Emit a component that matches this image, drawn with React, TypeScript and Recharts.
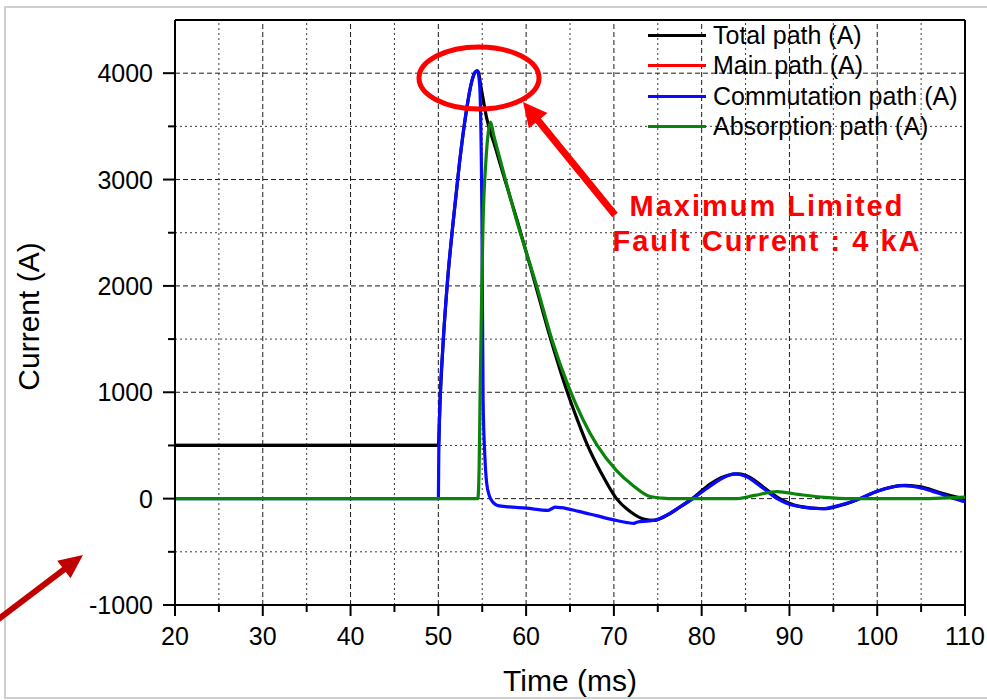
import { Label, Line, LineChart, ReferenceLine, XAxis, YAxis } from "recharts";

const FONT = '"Liberation Sans", Arial, sans-serif';

const xTicks = [20, 25, 30, 35, 40, 45, 50, 55, 60, 65, 70, 75, 80, 85, 90, 95, 100, 105, 110];
const yTicks = [-1000, -500, 0, 500, 1000, 1500, 2000, 2500, 3000, 3500, 4000];
const xGridMajor = [30, 40, 50, 60, 70, 80, 90, 100];
const xGridMinor = [25, 35, 45, 55, 65, 75, 85, 95, 105];
const yGridMajor = [0, 1000, 2000, 3000, 4000];
const yGridMinor = [-500, 500, 1500, 2500, 3500];

// main path (A)
const mainT = [20, 50];
const mainI = [500, 500];

// total path (A)
const totalT = [20, 50, 50.2, 50.5, 51, 51.7, 52.4, 53.2, 53.8, 54.2, 54.5, 54.9, 55.5, 56.5, 57.5, 59, 61, 62.8, 64.7, 65.8, 66.9, 68.5, 70.3, 72, 73.5, 74.5, 76, 77.5, 79, 81, 83, 84.2, 85.5, 87, 89, 91, 94, 96, 98, 100, 103.2, 105, 107, 109.5, 110];
const totalI = [500, 500, 920, 1400, 2000, 2610, 3150, 3650, 3920, 4010, 4020, 3850, 3580, 3300, 3020, 2610, 2030, 1500, 1000, 750, 520, 250, 0, -130, -195, -205, -160, -80, 5, 140, 220, 232, 200, 110, -5, -70, -95, -60, 0, 70, 125, 110, 60, 5, -5];

// commutation path (A)
const commT = [20, 50, 50.05, 50.2, 50.5, 51, 51.7, 52.4, 53.2, 53.8, 54.2, 54.45, 54.7, 54.97, 55.1, 55.3, 55.5, 55.8, 56.3, 56.8, 58, 60, 62.5, 62.9, 63.3, 64, 66, 68, 70, 71.5, 72.3, 72.6, 74, 75, 76, 77.5, 79, 80.5, 82, 83.8, 85, 86.5, 88.6, 90.5, 93.7, 96, 98, 100, 102.9, 105, 107, 108.8, 110];
const commI = [0, 0, 400, 920, 1400, 2000, 2610, 3150, 3650, 3920, 4010, 4025, 3900, 2610, 920, 400, 150, 30, -40, -66, -78, -90, -110, -95, -80, -85, -120, -160, -200, -225, -232, -222, -210, -195, -155, -80, 0, 90, 175, 233, 210, 130, 0, -65, -95, -55, 0, 70, 122, 100, 50, 0, -30];

// absorption path (A)
const absT = [20, 54.5, 54.65, 54.75, 54.95, 55.1, 55.4, 55.7, 55.95, 56.3, 57, 58.8, 61.2, 63, 64.8, 66.5, 68.1, 70.3, 72.2, 74.1, 75.5, 77, 84, 86, 88.6, 91, 94, 97, 105, 108, 110];
const absI = [0, 0, 300, 920, 2000, 2610, 3150, 3450, 3540, 3420, 3200, 2650, 2000, 1480, 1060, 740, 500, 263, 122, 20, 5, 0, 0, 30, 66, 40, 12, 0, 0, 8, 15];

const zip = (t: number[], v: number[]) => t.map((x, i) => ({ t: x, v: v[i] }));

const total = { name: "Total path (A)", color: "#000000", data: zip(totalT, totalI) };
const main = { name: "Main path (A)", color: "#ff0000", data: zip(mainT, mainI) };
const comm = { name: "Commutation path (A)", color: "#0a0aff", data: zip(commT, commI) };
const absorb = { name: "Absorption path (A)", color: "#0b840b", data: zip(absT, absI) };

const legendOrder = [total, main, comm, absorb];
const drawOrder = [main, total, comm, absorb];

function XTick({ x, y, payload }: any) {
  const v = payload.value;
  const major = v % 10 === 0;
  return (
    <g>
      <line x1={x} x2={x} y1={y} y2={y + (major ? 11 : 7)} stroke="#000" strokeWidth={2} />
      {major && (
        <text x={x} y={y + 40} textAnchor="middle" fontSize={25} fontFamily={FONT} fill="#000">
          {v}
        </text>
      )}
    </g>
  );
}

function YTick({ x, y, payload }: any) {
  const v = payload.value;
  const major = v % 1000 === 0;
  return (
    <g>
      <line x1={x - (major ? 12 : 7)} x2={x} y1={y} y2={y} stroke="#000" strokeWidth={2} />
      {major && (
        <text x={x - 22} y={y + 9} textAnchor="end" fontSize={25} fontFamily={FONT} fill="#000">
          {v}
        </text>
      )}
    </g>
  );
}

function LegendBox() {
  return (
    <div style={{ position: "absolute", left: 648, top: 20, fontFamily: FONT, fontSize: 25, color: "#000" }}>
      {legendOrder.map((s) => (
        <div key={s.name} style={{ display: "flex", alignItems: "center", height: 30.5, whiteSpace: "nowrap" }}>
          <span style={{ display: "inline-block", width: 58, height: 3, background: s.color, marginRight: 7 }} />
          <span>{s.name}</span>
        </div>
      ))}
    </div>
  );
}

function arrow(x1: number, y1: number, x2: number, y2: number, w: number, len: number, half: number, color: string) {
  const d = Math.hypot(x2 - x1, y2 - y1);
  const ux = (x2 - x1) / d;
  const uy = (y2 - y1) / d;
  const bx = x2 - ux * len;
  const by = y2 - uy * len;
  const pts = `${x2},${y2} ${bx - uy * half},${by + ux * half} ${bx + uy * half},${by - ux * half}`;
  return (
    <g>
      <line x1={x1} y1={y1} x2={bx + ux * 2} y2={by + uy * 2} stroke={color} strokeWidth={w} />
      <polygon points={pts} fill={color} />
    </g>
  );
}

export default function App() {
  return (
    <div style={{ position: "absolute", left: 0, top: 0, width: 987, height: 700, background: "#fff", overflow: "hidden" }}>
      <LineChart width={987} height={700} margin={{ top: 20, right: 22, bottom: 0, left: 0 }}>
        <XAxis
          type="number"
          dataKey="t"
          domain={[20, 110]}
          ticks={xTicks}
          interval={0}
          allowDataOverflow
          height={95}
          tickSize={0}
          tickMargin={0}
          tickLine={false}
          axisLine={{ stroke: "#000", strokeWidth: 2 }}
          tick={(p: any) => <XTick {...p} />}
        >
          <Label
            content={({ viewBox }: any) => (
              <text x={viewBox.x + viewBox.width / 2} y={viewBox.y + 86} textAnchor="middle" fontSize={30} fontFamily={FONT} fill="#000">
                Time (ms)
              </text>
            )}
          />
        </XAxis>
        <YAxis
          type="number"
          domain={[-1000, 4500]}
          ticks={yTicks}
          interval={0}
          allowDataOverflow
          width={175}
          tickSize={0}
          tickMargin={0}
          tickLine={false}
          axisLine={{ stroke: "#000", strokeWidth: 2 }}
          tick={(p: any) => <YTick {...p} />}
        >
          <Label
            content={({ viewBox }: any) => {
              const cx = viewBox.x + 39;
              const cy = viewBox.y + viewBox.height / 2 + 4;
              return (
                <text x={cx} y={cy} transform={`rotate(-90 ${cx} ${cy})`} textAnchor="middle" fontSize={30} fontFamily={FONT} fill="#000">
                  Current (A)
                </text>
              );
            }}
          />
        </YAxis>

        {xGridMinor.map((v) => (
          <ReferenceLine key={`xm${v}`} x={v} stroke="#3a3a3a" strokeDasharray="2 3" />
        ))}
        {yGridMinor.map((v) => (
          <ReferenceLine key={`ym${v}`} y={v} stroke="#3a3a3a" strokeDasharray="2 3" />
        ))}
        {xGridMajor.map((v) => (
          <ReferenceLine key={`xM${v}`} x={v} stroke="#1a1a1a" strokeDasharray="5 3" />
        ))}
        {yGridMajor.map((v) => (
          <ReferenceLine key={`yM${v}`} y={v} stroke="#1a1a1a" strokeDasharray="5 3" />
        ))}
        <ReferenceLine x={110} stroke="#000" strokeWidth={2} />
        <ReferenceLine y={4500} stroke="#000" strokeWidth={2} />

        {drawOrder.map((s) => (
          <Line
            key={s.name}
            data={s.data}
            dataKey="v"
            name={s.name}
            type="monotone"
            stroke={s.color}
            strokeWidth={3.2}
            dot={false}
            activeDot={false}
            isAnimationActive={false}
          />
        ))}
      </LineChart>

      <LegendBox />

      <svg width={987} height={700} style={{ position: "absolute", left: 0, top: 0, pointerEvents: "none" }}>
        <rect x={5} y={7} width={990} height={691} fill="none" stroke="#cfcfcf" strokeWidth={2} />
        <ellipse cx={479} cy={78} rx={60} ry={31} fill="none" stroke="#ff0000" strokeWidth={5} />
        {arrow(615, 215, 523, 102, 7, 24, 12, "#ff0000")}
        {arrow(-4, 621, 83, 555, 6, 24, 11, "#c00000")}
        <text x={767} y={216} textAnchor="middle" fontSize={29} fontWeight="bold" letterSpacing={2} fontFamily={FONT} fill="#ff0000">
          Maximum Limited
        </text>
        <text x={767} y={251} textAnchor="middle" fontSize={29} fontWeight="bold" letterSpacing={2} fontFamily={FONT} fill="#ff0000">
          Fault Current : 4 kA
        </text>
      </svg>
    </div>
  );
}
